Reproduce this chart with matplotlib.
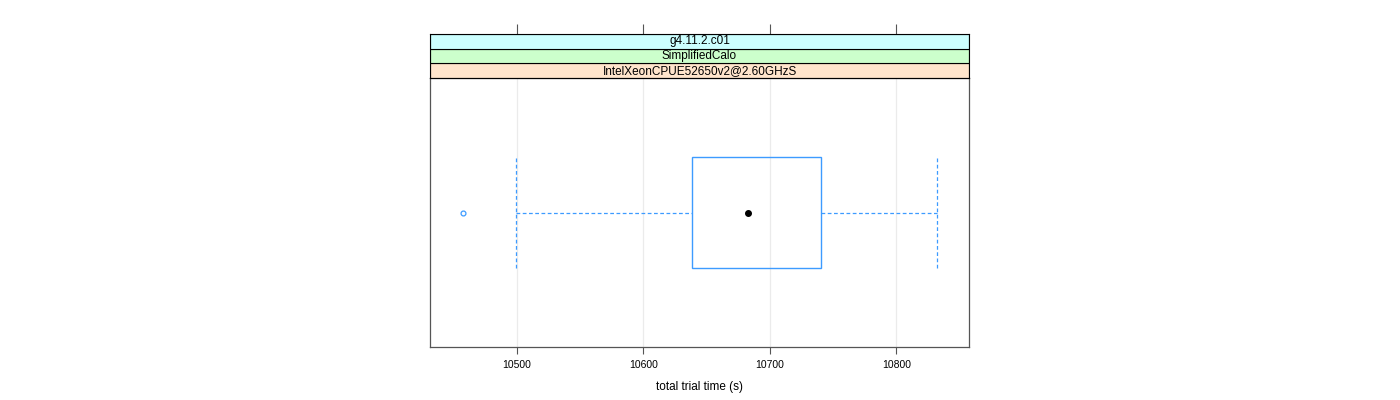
import matplotlib
matplotlib.use("Agg")
import matplotlib.pyplot as plt
from matplotlib.patches import Rectangle

plt.rcParams['font.family'] = ['Liberation Sans', 'DejaVu Sans']

# box statistics (seconds)
lower_whisker = 10499.7
q1 = 10638.4
median = 10683.1
q3 = 10740.7
upper_whisker = 10832.3
outliers = [10457.5]

strip_labels = ['IntelXeonCPUE52650v2@2.60GHzS', 'SimplifiedCalo', 'g4.11.2.c01']
strip_colors = ['#ffe5cc', '#ccffcc', '#ccffff']
xticks = [10500, 10600, 10700, 10800]
xlim = (10431.5, 10857.5)

blue = '#3d9bff'

fig = plt.figure(figsize=(14, 4), dpi=100)
ax = fig.add_axes([430/1400, 1-347/400, 539/1400, 269/400])
sax = fig.add_axes([430/1400, 1-78/400, 539/1400, 44/400], sharex=ax)

ax.set_xlim(*xlim)
ax.set_ylim(0, 1)
for t in xticks:
    ax.axvline(t, color='#ebebeb', lw=0.9, zorder=0)

yc = 0.5
half = 0.208
ax.add_patch(Rectangle((q1, yc-half), q3-q1, 2*half, fill=False, ec=blue, lw=1.0, zorder=2))
ax.plot([lower_whisker, q1], [yc, yc], color=blue, lw=0.9, ls=(0, (3, 2)))
ax.plot([q3, upper_whisker], [yc, yc], color=blue, lw=0.9, ls=(0, (3, 2)))
ax.plot([lower_whisker, lower_whisker], [yc-half, yc+half], color=blue, lw=0.9, ls=(0, (3, 2)))
ax.plot([upper_whisker, upper_whisker], [yc-half, yc+half], color=blue, lw=0.9, ls=(0, (3, 2)))
ax.plot([median], [yc], 'o', color='black', ms=4, zorder=3)
ax.plot(outliers, [yc]*len(outliers), 'o', mfc='none', mec=blue, ms=3.5, mew=0.9)

ax.set_yticks([])
ax.set_xticks(xticks)
ax.set_xticklabels([str(t) for t in xticks], fontsize=7.5)
ax.tick_params(axis='x', direction='out', length=5, width=0.8, color='#555555', pad=4)
for s in ax.spines.values():
    s.set_color('#555555')
    s.set_linewidth(0.9)
ax.set_xlabel('total trial time (s)', fontsize=8.5, labelpad=8)

# strips
sax.set_ylim(0, 3)
for i, (lab, col) in enumerate(zip(strip_labels, strip_colors)):
    sax.add_patch(Rectangle((xlim[0], i), xlim[1]-xlim[0], 1, fc=col, ec='black', lw=0.8))
    sax.text(sum(xlim)/2, i+0.5, lab, ha='center', va='center', fontsize=8.5)
sax.set_yticks([])
sax.tick_params(axis='x', which='both', bottom=False, labelbottom=False,
                top=True, direction='out', length=7, width=0.8, color='#555555')
for s in sax.spines.values():
    s.set_color('black')
    s.set_linewidth(0.8)

fig.savefig('out.png', dpi=100)
